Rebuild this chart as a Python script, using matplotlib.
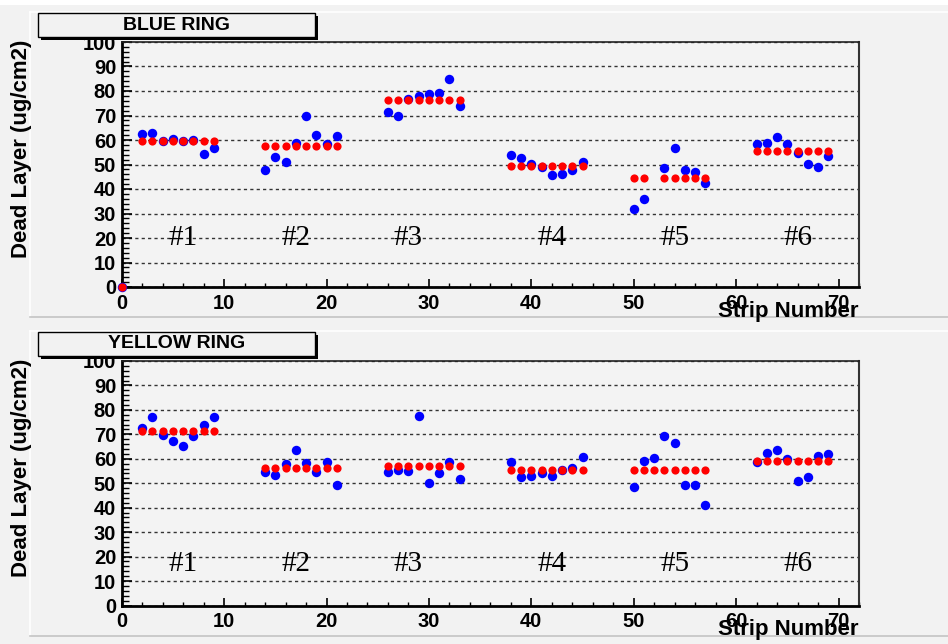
import matplotlib
matplotlib.use('Agg')
import matplotlib.pyplot as plt
from matplotlib.patches import Rectangle
from matplotlib.lines import Line2D
from matplotlib.ticker import MultipleLocator

W, H = 948, 644

# ---- data ----
blue_strips = [0,
               2, 3, 4, 5, 6, 7, 8, 9,
               14, 15, 16, 17, 18, 19, 20, 21,
               26, 27, 28, 29, 30, 31, 32, 33,
               38, 39, 40, 41, 42, 43, 44, 45,
               50, 51, 53, 54, 55, 56, 57,
               62, 63, 64, 65, 66, 67, 68, 69]
blue_meas = [0,
             62.5, 62.9, 59.6, 60.3, 59.6, 60.2, 54.2, 56.9,
             47.7, 53.2, 50.9, 58.9, 69.8, 61.9, 58.3, 61.7,
             71.6, 69.7, 76.8, 77.8, 78.9, 79.1, 84.9, 73.9,
             53.9, 52.5, 50.2, 49.1, 45.7, 46.1, 47.6, 50.9,
             31.8, 35.9, 48.7, 56.6, 47.9, 46.8, 42.4,
             58.4, 58.9, 61.4, 58.3, 54.8, 50.1, 49.1, 53.5]
blue_avg = [0,
            59.6, 59.6, 59.6, 59.6, 59.6, 59.6, 59.6, 59.6,
            57.7, 57.7, 57.7, 57.7, 57.7, 57.7, 57.7, 57.7,
            76.4, 76.4, 76.4, 76.4, 76.4, 76.4, 76.4, 76.4,
            49.5, 49.5, 49.5, 49.5, 49.5, 49.5, 49.5, 49.5,
            44.3, 44.3, 44.3, 44.3, 44.3, 44.3, 44.3,
            55.7, 55.7, 55.7, 55.7, 55.7, 55.7, 55.7, 55.7]

yellow_strips = [2, 3, 4, 5, 6, 7, 8, 9,
                 14, 15, 16, 17, 18, 19, 20, 21,
                 26, 27, 28, 29, 30, 31, 32, 33,
                 38, 39, 40, 41, 42, 43, 44, 45,
                 50, 51, 52, 53, 54, 55, 56, 57,
                 62, 63, 64, 65, 66, 67, 68, 69]
yellow_meas = [72.4, 76.9, 69.8, 67.2, 65.4, 69.2, 73.9, 77.0,
               54.5, 53.5, 57.9, 63.8, 58.4, 54.4, 58.7, 49.3,
               54.4, 55.6, 54.9, 77.6, 50.0, 54.2, 58.6, 51.9,
               58.5, 52.6, 53.1, 54.2, 53.1, 55.3, 56.1, 60.6,
               48.6, 59.3, 60.2, 69.5, 66.4, 49.3, 49.3, 41.0,
               58.5, 62.3, 63.8, 59.8, 51.0, 52.6, 61.2, 62.0]
yellow_avg = [71.4, 71.4, 71.4, 71.4, 71.4, 71.4, 71.4, 71.4,
              56.3, 56.3, 56.3, 56.3, 56.3, 56.3, 56.3, 56.3,
              57.2, 57.2, 57.2, 57.2, 57.2, 57.2, 57.2, 57.2,
              55.5, 55.5, 55.5, 55.5, 55.5, 55.5, 55.5, 55.5,
              55.5, 55.5, 55.5, 55.5, 55.5, 55.5, 55.5, 55.5,
              58.9, 58.9, 58.9, 58.9, 58.9, 58.9, 58.9, 58.9]

group_labels = ['#1', '#2', '#3', '#4', '#5', '#6']
group_label_x = [6, 17, 28, 42, 54, 66]

SANS = 'Liberation Sans'


def fx(px):
    return px / W


def fy(py):
    return 1 - py / H


fig = plt.figure(figsize=(W / 100, H / 100), dpi=100, facecolor='#f2f2f2')

# white strip at the very top
fig.patches.append(Rectangle((0, fy(5)), 1, 5 / H, transform=fig.transFigure,
                             facecolor='white', edgecolor='none', zorder=0))


def pad_frame(top, bottom):
    # bevelled pad border like ROOT
    fig.add_artist(Line2D([fx(30), 1], [fy(top), fy(top)], color='white', lw=1.2))
    fig.add_artist(Line2D([fx(30), fx(30)], [fy(top), fy(bottom)], color='white', lw=1.2))
    fig.add_artist(Line2D([fx(30), 1], [fy(bottom), fy(bottom)], color='#c4c4c4', lw=1.2))


def title_box(top, text):
    x0, x1, y0, y1 = 38, 315, top, top + 24
    fig.patches.append(Rectangle((fx(x0 + 3), fy(y1 + 3)), (x1 - x0) / W, (y1 - y0) / H,
                                 transform=fig.transFigure, facecolor='black',
                                 edgecolor='none', zorder=5))
    fig.patches.append(Rectangle((fx(x0), fy(y1)), (x1 - x0) / W, (y1 - y0) / H,
                                 transform=fig.transFigure, facecolor='#f2f2f2',
                                 edgecolor='black', lw=1, zorder=6))
    fig.text(fx((x0 + x1) / 2), fy((y0 + y1) / 2), text, ha='center', va='center',
             family=SANS, weight='bold', fontsize=14, zorder=7)


def draw_panel(ax_top, ax_bottom, strips, meas, avg, label_y):
    ax = fig.add_axes([fx(121.7), fy(ax_bottom), (859 - 121.7) / W, (ax_bottom - ax_top) / H])
    ax.set_facecolor('#f3f3f3')
    ax.set_xlim(0, 72)
    ax.set_ylim(0, 100)
    ax.yaxis.set_major_locator(MultipleLocator(10))
    ax.yaxis.set_minor_locator(MultipleLocator(2))
    ax.xaxis.set_major_locator(MultipleLocator(10))
    ax.xaxis.set_minor_locator(MultipleLocator(2))
    ax.tick_params(axis='y', which='major', direction='in', length=7, width=1.2, pad=4)
    ax.tick_params(axis='y', which='minor', direction='in', length=5, width=1)
    ax.tick_params(axis='x', which='major', direction='in', length=5.8, width=1.2, pad=5)
    ax.tick_params(axis='x', which='minor', direction='in', length=3, width=1)
    for lab in ax.get_xticklabels() + ax.get_yticklabels():
        lab.set_family(SANS)
        lab.set_weight('bold')
        lab.set_fontsize(14.5)
    ax.spines['left'].set_linewidth(2)
    ax.spines['bottom'].set_linewidth(2)
    ax.spines['top'].set_linewidth(1.2)
    ax.spines['right'].set_linewidth(1.5)
    ax.spines['top'].set_color('#222222')
    ax.spines['right'].set_color('#333333')
    ax.grid(axis='y', which='major', color='#333333', lw=1, linestyle=(0, (2.3, 2.3)))
    ax.set_axisbelow(True)

    ax.plot(strips, meas, 'o', color='blue', markersize=6.8, markeredgewidth=0,
            clip_on=False, zorder=3)
    ax.plot(strips, avg, 'o', color='red', markersize=5.9, markeredgewidth=0,
            clip_on=False, zorder=4)

    for lab, x in zip(group_labels, group_label_x):
        ax.text(x, label_y, lab, ha='center', va='center', family='Liberation Serif',
                fontsize=21, zorder=5)

    fig.text(fx(22), fy(ax_top - 2), 'Dead Layer (ug/cm2)', rotation=90, ha='center',
             va='top', family=SANS, weight='bold', fontsize=16)
    fig.text(fx(858), fy(ax_bottom + 30), 'Strip Number', ha='right', va='baseline',
             family=SANS, weight='bold', fontsize=16, zorder=4)
    return ax


pad_frame(12, 317)
pad_frame(331, 636)

draw_panel(42, 287, blue_strips, blue_meas, blue_avg, 20)
draw_panel(361, 605.5, yellow_strips, yellow_meas, yellow_avg, 17)

title_box(13, 'BLUE RING')
title_box(332, 'YELLOW RING')

fig.savefig('out.png', dpi=100, facecolor=fig.get_facecolor())
